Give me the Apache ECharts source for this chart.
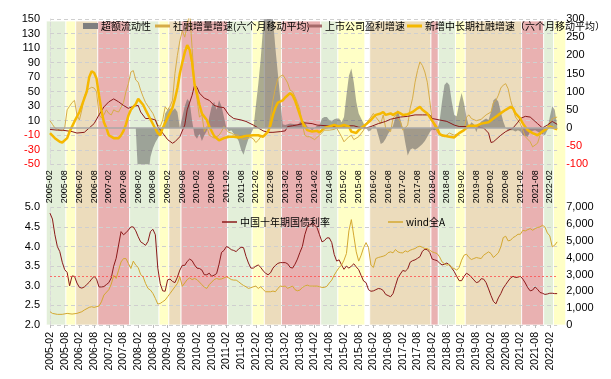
<!DOCTYPE html>
<html><head><meta charset="utf-8">
<script src="https://cdn.jsdelivr.net/npm/echarts@6/dist/echarts.min.js"></script>
<style>html,body{margin:0;padding:0;background:#fff}#c{width:611px;height:379px}</style>
</head><body><div id="c"></div>
<script>
// ---- categories: monthly 2005-02 .. 2022-05 ----
const START_YEAR = 2005, START_MONTH = 2, N_MONTHS = 208;
const months = [];
for (let i = 0; i < N_MONTHS; i++) {
  const t = START_MONTH - 1 + i;
  const y = START_YEAR + Math.floor(t / 12), m = t % 12 + 1;
  months.push(y + '-' + (m < 10 ? '0' : '') + m);
}

// ---- regime bands (month index from 2005-02, inclusive) ----
const bandFrom = [-1,7,11,20,33,45,49,54,73,83,88,95,111,118,131,156,159,166,170,193,202,206];
const bandTo   = [6,10,19,32,44,48,53,72,82,87,94,110,117,128,155,158,165,169,192,201,205,210];
const bandType = ['g','y','t','r','g','y','t','r','g','y','t','r','g','y','t','r','g','y','t','r','g','y'];

// ---- top chart series: [month index, value] ----
const excessLiquidity = [[35,0],[36,-70],[40,-70],[41,-40],[42,-28],[43,-20],[44,-14],[45,-8],[46,0],[47,20],[48,25],[49,27],[50,24],[51,27],[52,22],[53,0],[54,15],[55,30],[56,40],[57,36],[58,10],[59,-10],[60,-15],[61,-8],[62,-18],[63,-10],[64,-4],[65,15],[66,30],[67,36],[68,25],[69,38],[70,30],[71,15],[72,0],[73,-5],[74,-3],[75,-8],[76,-12],[77,-18],[78,-30],[79,-37],[80,-25],[81,-15],[82,-8],[83,-1],[84,30],[85,60],[86,95],[87,140],[88,170],[89,180],[90,170],[91,150],[92,110],[93,75],[94,40],[95,5],[96,4],[98,6],[100,5],[101,4],[102,8],[103,11],[104,8],[105,2],[106,0],[107,-3],[108,0],[109,3],[110,4],[111,13],[112,15],[113,15],[114,11],[115,9],[116,12],[117,13],[118,13],[119,8],[120,15],[121,45],[122,72],[123,82],[124,63],[125,36],[126,20],[127,13],[128,6],[129,0],[130,-5],[131,-3],[132,3],[133,2],[134,-10],[135,-22],[136,-20],[137,-15],[138,-8],[139,-3],[140,3],[141,15],[142,25],[143,12],[144,0],[145,-20],[146,-38],[147,-30],[148,-28],[149,-30],[150,-28],[151,-25],[152,-22],[153,-18],[154,-12],[155,-6],[156,-2],[157,-3],[158,-2],[159,9],[160,36],[161,59],[162,63],[163,59],[164,36],[165,18],[166,16],[167,34],[168,48],[169,34],[170,15],[171,2],[172,8],[173,5],[174,-6],[175,4],[176,9],[177,11],[178,13],[179,11],[180,22],[181,38],[182,41],[183,36],[184,22],[185,9],[186,0],[187,-3],[189,-3],[190,-5],[191,-3],[192,-5],[193,-10],[195,-12],[196,-5],[198,-3],[200,-7],[202,-10],[203,-3],[204,15],[205,30],[206,25],[207,4]];

const socialFinancing = [[0,10],[1,5],[2,0],[4,-3],[5,-4],[6,0],[7,25],[8,30],[9,35],[10,38],[11,18],[12,11],[13,25],[14,43],[15,52],[16,54],[17,56],[18,55],[19,50],[20,18],[21,14],[22,18],[23,25],[24,20],[25,18],[26,25],[27,23],[28,22],[30,35],[31,50],[32,61],[33,77],[34,79],[35,66],[36,63],[37,52],[38,43],[39,35],[40,30],[41,25],[42,20],[43,12],[44,4],[45,2],[46,11],[47,29],[48,25],[49,30],[50,38],[51,75],[52,100],[53,120],[54,134],[55,125],[56,141],[57,160],[58,110],[59,60],[60,40],[61,15],[62,18],[63,-5],[64,2],[65,-10],[66,-12],[67,-14],[68,-12],[69,-10],[70,-5],[71,2],[72,-3],[73,-6],[74,-7],[75,-9],[77,-10],[78,-14],[79,-16],[80,-15],[81,-14],[82,-13],[83,-15],[84,-20],[85,-17],[86,-12],[87,-11],[88,-10],[89,-5],[90,15],[91,38],[92,55],[93,68],[94,71],[95,73],[96,68],[97,62],[98,52],[99,50],[100,43],[101,35],[102,25],[103,5],[104,-10],[105,-12],[106,-12],[108,-16],[110,-10],[112,-3],[114,-3],[116,-2],[117,0],[119,-12],[120,-19],[122,-12],[123,-10],[124,-16],[126,-12],[128,-3],[129,6],[131,15],[132,20],[133,15],[135,6],[136,18],[137,0],[139,-5],[140,13],[141,18],[143,9],[144,-3],[146,4],[147,27],[148,41],[149,63],[150,79],[151,91],[152,86],[153,77],[154,63],[155,38],[156,9],[158,-5],[159,-10],[161,-12],[163,-7],[165,-10],[167,-7],[169,-3],[170,15],[171,18],[172,13],[174,10],[176,12],[178,18],[180,22],[181,35],[182,38],[183,45],[184,55],[185,59],[186,61],[187,54],[188,38],[189,27],[190,15],[192,6],[194,-12],[196,-19],[197,-26],[199,-21],[200,-10],[201,-5],[203,2],[205,13],[207,15]];

const listedProfit = [[0,-2],[3,-3],[5,-3],[9,-5],[11,-7],[14,-6],[16,0],[18,6],[20,18],[22,29],[24,36],[26,40],[28,36],[30,31],[32,27],[34,30],[36,31],[37,22],[39,13],[41,13],[43,11],[44,2],[46,-7],[48,-16],[50,-21],[51,-19],[53,-12],[55,4],[56,25],[58,45],[59,59],[60,56],[61,48],[63,41],[65,38],[67,31],[69,29],[71,28],[73,18],[75,13],[78,11],[80,9],[83,4],[85,0],[87,-4],[89,-6],[91,-6],[94,-5],[96,-4],[97,2],[99,3],[102,5],[104,7],[107,6],[109,4],[113,3],[116,2],[118,3],[121,3],[124,3],[126,1],[129,0],[131,2],[134,6],[137,9],[139,12],[143,15],[146,16],[149,18],[152,18],[155,18],[156,13],[159,11],[162,9],[165,4],[167,2],[170,2],[173,2],[177,0],[179,-7],[180,-20],[181,-19],[182,-16],[184,-10],[186,-5],[189,0],[191,8],[192,13],[194,16],[196,15],[198,9],[199,6],[201,0],[203,4],[205,9],[207,5]];

const longTermFinancing = [[0,-7],[2,-14],[4,-19],[5,-20],[7,-14],[8,-5],[10,9],[12,22],[13,31],[15,50],[16,70],[17,78],[18,76],[19,68],[20,45],[21,24],[22,8],[23,0],[24,-10],[26,-14],[28,-14],[29,-10],[30,-4],[31,5],[32,17],[33,25],[35,33],[36,40],[37,36],[38,32],[39,25],[41,12],[43,-1],[44,-7],[45,-10],[46,0],[48,14],[50,28],[51,40],[52,55],[53,75],[54,90],[55,104],[56,114],[57,108],[58,90],[59,60],[60,47],[61,32],[62,20],[64,11],[65,2],[67,-11],[69,-17],[71,-14],[73,-12],[75,-12],[77,-13],[80,-11],[83,-10],[85,-10],[87,-12],[89,-5],[90,4],[91,18],[92,28],[93,35],[95,38],[96,42],[98,48],[99,45],[100,38],[101,28],[102,18],[103,8],[105,-3],[107,-5],[109,-4],[110,-6],[112,0],[114,2],[116,4],[118,2],[120,4],[122,2],[123,-5],[125,-7],[126,-3],[127,0],[129,5],[131,11],[132,15],[133,18],[135,20],[136,22],[137,18],[139,20],[140,18],[142,22],[143,20],[144,18],[146,19],[148,22],[150,27],[151,29],[152,25],[154,20],[155,15],[157,5],[158,0],[159,-8],[160,-10],[163,-12],[165,-13],[167,-7],[169,-3],[171,3],[174,3],[176,6],[179,8],[181,13],[183,18],[186,25],[188,29],[189,27],[190,20],[192,13],[193,6],[195,-3],[197,-7],[199,-10],[201,-5],[204,2],[207,-2]];

// ---- bottom chart series ----
const bondYield = [[0,4.85],[1,4.7],[2,4.3],[3,4.0],[4,3.87],[5,3.6],[6,3.41],[7,3.34],[8,3.0],[9,3.25],[10,3.24],[11,3.07],[12,2.96],[13,2.94],[14,2.97],[15,3.03],[16,3.09],[17,3.17],[18,3.24],[19,3.17],[20,2.97],[21,2.97],[22,2.98],[23,3.03],[24,3.08],[25,3.2],[26,3.5],[27,3.7],[28,4.04],[29,4.38],[30,4.3],[31,4.35],[32,4.42],[33,4.5],[34,4.5],[35,4.4],[36,4.25],[37,4.12],[38,4.08],[39,4.03],[40,4.13],[41,4.38],[42,4.44],[43,4.3],[44,3.45],[45,3.05],[46,2.87],[47,2.86],[48,3.15],[49,3.17],[50,3.11],[51,3.08],[52,3.22],[53,3.4],[54,3.52],[55,3.52],[56,3.62],[57,3.68],[58,3.64],[59,3.53],[60,3.45],[61,3.44],[62,3.4],[63,3.28],[64,3.28],[65,3.32],[66,3.24],[67,3.27],[68,3.31],[69,3.55],[70,3.85],[71,3.9],[72,4.0],[73,3.97],[74,3.92],[75,3.9],[76,3.87],[77,3.94],[78,3.98],[79,3.97],[80,3.75],[81,3.58],[82,3.45],[83,3.45],[84,3.5],[85,3.53],[86,3.47],[87,3.38],[88,3.32],[89,3.28],[90,3.33],[91,3.45],[92,3.52],[93,3.57],[94,3.59],[95,3.59],[96,3.59],[97,3.56],[98,3.47],[99,3.45],[100,3.55],[101,3.68],[102,3.85],[103,4.0],[104,4.3],[105,4.5],[106,4.56],[107,4.58],[108,4.55],[109,4.48],[110,4.3],[111,4.12],[112,4.15],[113,4.22],[114,4.22],[115,4.1],[116,3.8],[117,3.63],[118,3.66],[119,3.53],[120,3.42],[121,3.5],[122,3.45],[123,3.5],[124,3.56],[125,3.48],[126,3.41],[127,3.26],[128,3.12],[129,3.08],[130,2.9],[131,2.86],[132,2.87],[133,2.9],[134,2.93],[135,2.92],[136,2.88],[137,2.78],[138,2.75],[139,2.72],[140,2.8],[141,3.0],[142,3.2],[143,3.3],[144,3.39],[145,3.37],[146,3.43],[147,3.6],[148,3.64],[149,3.66],[150,3.7],[151,3.74],[152,3.88],[153,3.93],[154,3.92],[155,3.85],[156,3.68],[157,3.66],[158,3.64],[159,3.58],[160,3.53],[161,3.55],[162,3.58],[163,3.53],[164,3.45],[165,3.36],[166,3.24],[167,3.13],[168,3.13],[169,3.24],[170,3.32],[171,3.28],[172,3.22],[173,3.15],[174,3.08],[175,3.1],[176,3.18],[177,3.17],[178,3.08],[179,2.92],[180,2.75],[181,2.6],[182,2.54],[183,2.69],[184,2.8],[185,2.94],[186,3.03],[187,3.12],[188,3.2],[189,3.24],[190,3.21],[191,3.22],[192,3.24],[193,3.17],[194,3.07],[195,2.95],[196,2.87],[197,2.89],[198,2.97],[199,2.91],[200,2.83],[201,2.81],[202,2.78],[203,2.79],[204,2.81],[205,2.81],[206,2.8],[207,2.8]];

const windA = [[0,790],[1,690],[3,633],[5,633],[7,690],[9,650],[11,690],[13,790],[14,890],[16,1050],[17,1087],[18,1048],[20,1130],[21,1380],[22,1780],[24,2100],[25,2430],[26,2950],[27,2770],[28,3260],[29,3750],[30,3950],[31,3950],[32,3660],[33,3360],[34,3800],[35,3560],[36,3420],[37,3000],[38,2870],[39,2470],[40,2175],[41,2076],[42,1878],[43,1582],[44,1245],[45,1285],[46,1384],[47,1483],[48,1680],[49,1878],[50,2076],[51,2274],[52,2471],[53,2867],[54,2300],[55,2500],[56,2700],[57,2800],[58,2700],[59,2768],[60,2700],[61,2550],[62,2400],[63,2250],[64,2175],[65,2400],[66,2550],[67,2700],[68,2768],[69,2720],[70,2740],[71,2800],[72,2867],[73,2800],[74,2700],[75,2669],[76,2669],[77,2570],[78,2450],[79,2350],[80,2274],[81,2175],[82,2220],[83,2274],[84,2313],[85,2175],[86,2274],[87,2115],[88,1977],[89,1977],[90,1977],[91,2017],[92,1977],[93,2175],[94,2313],[95,2290],[96,2313],[97,2180],[98,2250],[99,2313],[100,2100],[101,2036],[102,2076],[103,2234],[104,2313],[105,2372],[106,2313],[107,2313],[108,2313],[109,2313],[110,2280],[111,2234],[112,2234],[113,2300],[114,2500],[115,2669],[116,2966],[117,3200],[118,3420],[119,3559],[120,3855],[121,4250],[122,5600],[123,6267],[124,5300],[125,4349],[126,3800],[127,4152],[128,4600],[129,4900],[130,4600],[131,3559],[132,3420],[133,3954],[134,4013],[135,4053],[136,4092],[137,4150],[138,4300],[139,4349],[140,4290],[141,4488],[142,4349],[143,4300],[144,4290],[145,4409],[146,4349],[147,4448],[148,4500],[149,4547],[150,4646],[151,4685],[152,4620],[153,4547],[154,4547],[155,4448],[156,4349],[157,4300],[158,4250],[159,4053],[160,3756],[161,3650],[162,3559],[163,3600],[164,3400],[165,3361],[166,3262],[167,3420],[168,3855],[169,4152],[170,4211],[171,4013],[172,3895],[173,3954],[174,4013],[175,3980],[176,3954],[177,4152],[178,4250],[179,4349],[180,4250],[181,4013],[182,4152],[183,4290],[184,4646],[185,5200],[186,5279],[187,5002],[188,5041],[189,5200],[190,5279],[191,5397],[192,5397],[193,5634],[194,5595],[195,5674],[196,5733],[197,5634],[198,5733],[199,5800],[200,5832],[201,5931],[202,5832],[203,5476],[204,5300],[205,4650],[206,4745],[207,4943]];

const bondRefLine = 3.25;

// ---- tick labels ----
const topLeftTicks = {min: -50, max: 150, interval: 20};
const topRightTicks = {min: -100, max: 300, interval: 50};
const botLeftTicks = {min: 2.0, max: 5.0, interval: 0.5};
const botRightTicks = {min: 0, max: 7000, interval: 1000};

// ---- names ----
const N_EXCESS = '超额流动性';
const N_SF = '社融增量增速(六个月移动平均)';
const N_PROFIT = '上市公司盈利增速';
const N_LT = '新增中长期社融增速（六个月移动平均）';
const N_BOND = '中国十年期国债利率';
const N_WIND = 'wind全A';

// ---- layout ----
const PLOT_L = 50, PLOT_R = 557.15, W = 611, H = 379;
const pxPerMonth = (PLOT_R - PLOT_L) / (N_MONTHS - 1);
const BAND_L = 46, BAND_R = 566;

const C = {
  green: '#e3efd9', yellow: '#ffffc6', tan: '#ecdcbc', red: '#e9b1b1',
  excess: 'rgba(88,88,88,0.72)', excessLegend: '#7f7f7f',
  sf: '#d6ac48', profit: '#8b1a1a', lt: '#f5b800', bond: '#8b1a1a', wind: '#d4a830'
};
const bandColor = {g: C.green, y: C.yellow, t: C.tan, r: C.red};
const NUM_FONT = 'Liberation Sans, Arial, sans-serif';
const CJK_FONT = 'Noto Sans CJK SC, sans-serif';

const chart = echarts.init(document.getElementById('c'), null, {renderer: 'canvas'});

const catAxisBase = {
  type: 'category', data: months, boundaryGap: false,
  axisLine: {show: false}, axisTick: {show: false}, splitLine: {show: false}
};
const negRed = v => (v < 0 ? '#ff0000' : '#000000');
const lineSeries = (name, data, color, width, xi, yi) => ({
  name, type: 'line', data, xAxisIndex: xi, yAxisIndex: yi,
  showSymbol: false, symbol: 'none', clip: true,
  lineStyle: {color, width}, itemStyle: {color}, z: 3
});
const legendOne = (name, left, top, color, ih) => ({
  data: [{name, icon: 'rect', itemStyle: {color}}],
  left, top, itemWidth: 15, itemHeight: ih, itemGap: 4,
  selectedMode: false,
  textStyle: {fontSize: 10, color: '#000', fontFamily: CJK_FONT, padding: [0, 0, 0, -2]}
});

const option = {
  animation: false,
  backgroundColor: '#fff',
  grid: [
    {left: PLOT_L, right: W - PLOT_R, top: 19, height: 145.3},
    {left: PLOT_L, right: W - PLOT_R, top: 207.3, height: 117.7},
    {left: BAND_L, right: W - BAND_R, top: 21, bottom: H - 325}
  ],
  legend: [
    legendOne(N_EXCESS, 78, 16, C.excessLegend, 6),
    legendOne(N_SF, 150, 16, C.sf, 3),
    legendOne(N_PROFIT, 302, 16, '#a66a6a', 3),
    legendOne(N_LT, 402, 16, C.lt, 3),
    legendOne(N_BOND, 217, 212, C.bond, 1.5),
    legendOne(N_WIND, 383, 212, C.wind, 1.5)
  ],
  xAxis: [
    Object.assign({}, catAxisBase, {gridIndex: 0,
      axisLabel: {rotate: 90, interval: (i) => i % 6 === 0, fontSize: 9, color: '#000', margin: 6, fontFamily: NUM_FONT}}),
    Object.assign({}, catAxisBase, {gridIndex: 1,
      axisTick: {show: true, interval: (i) => i % 6 === 0, length: 3, lineStyle: {color: '#bbb'}},
      axisLabel: {rotate: 90, interval: (i) => i % 6 === 0, fontSize: 10.5, color: '#000', margin: 7, fontFamily: NUM_FONT}}),
    {type: 'value', gridIndex: 2, show: false,
      min: (BAND_L - PLOT_L) / pxPerMonth, max: (BAND_R - PLOT_L) / pxPerMonth}
  ],
  yAxis: [
    {type: 'value', gridIndex: 0, min: topLeftTicks.min, max: topLeftTicks.max, interval: topLeftTicks.interval,
      axisLine: {show: true, lineStyle: {color: '#d9d9d9', type: 'dashed'}}, axisTick: {show: false},
      splitLine: {show: true, lineStyle: {color: '#cfcfcf', type: [4, 3], width: 1}},
      axisLabel: {fontSize: 11, margin: 10, color: negRed, fontFamily: NUM_FONT}},
    {type: 'value', gridIndex: 0, position: 'right', min: topRightTicks.min, max: topRightTicks.max, interval: topRightTicks.interval,
      axisLine: {show: false}, axisTick: {show: false}, splitLine: {show: false},
      axisLabel: {fontSize: 11, margin: 9, color: negRed, fontFamily: NUM_FONT}},
    {type: 'value', gridIndex: 1, min: botLeftTicks.min, max: botLeftTicks.max, interval: botLeftTicks.interval,
      axisLine: {show: true, lineStyle: {color: '#d9d9d9', type: 'dashed'}}, axisTick: {show: false},
      splitLine: {show: true, lineStyle: {color: '#cfcfcf', type: [4, 3], width: 1}},
      axisLabel: {fontSize: 11, margin: 10, color: '#000', fontFamily: NUM_FONT, formatter: v => v.toFixed(1)}},
    {type: 'value', gridIndex: 1, position: 'right', min: botRightTicks.min, max: botRightTicks.max, interval: botRightTicks.interval,
      axisLine: {show: false}, axisTick: {show: false}, splitLine: {show: false},
      axisLabel: {fontSize: 11, margin: 9, color: '#000', fontFamily: NUM_FONT,
        formatter: v => v.toString().replace(/\B(?=(\d{3})+(?!\d))/g, ',')}},
    {type: 'value', gridIndex: 2, show: false, min: 0, max: 1}
  ],
  series: [
    {
      type: 'line', name: 'bands', data: [], xAxisIndex: 2, yAxisIndex: 4, z: -2, silent: true,
      markArea: {
        silent: true, z: -2,
        itemStyle: {borderColor: '#ffffff', borderWidth: 0.8},
        data: bandFrom.map((f, i) => [
          {xAxis: f - 0.5, itemStyle: {color: bandColor[bandType[i]]}},
          {xAxis: bandTo[i] + 0.5}
        ])
      }
    },
    {
      name: N_EXCESS, type: 'line', data: excessLiquidity, xAxisIndex: 0, yAxisIndex: 0,
      showSymbol: false, symbol: 'none', clip: true, z: 2,
      lineStyle: {width: 0}, areaStyle: {color: C.excess, origin: 0},
      itemStyle: {color: C.excessLegend},
      markLine: {silent: true, symbol: 'none', label: {show: false},
        lineStyle: {color: '#a8a8a8', width: 1.5, type: 'solid'}, data: [{yAxis: 0}]}
    },
    lineSeries(N_SF, socialFinancing, C.sf, 1, 0, 0),
    lineSeries(N_PROFIT, listedProfit, C.profit, 1, 0, 0),
    Object.assign(lineSeries(N_LT, longTermFinancing, C.lt, 2.5, 0, 0), {z: 4}),
    Object.assign(lineSeries(N_BOND, bondYield, C.bond, 1, 1, 2), {
      markLine: {silent: true, symbol: 'none', label: {show: false},
        lineStyle: {color: '#ff4d4d', width: 0.8, type: [2, 2]}, data: [{yAxis: bondRefLine}]}
    }),
    lineSeries(N_WIND, windA, C.wind, 1, 1, 3)
  ]
};
chart.setOption(option);
</script>
</body></html>
